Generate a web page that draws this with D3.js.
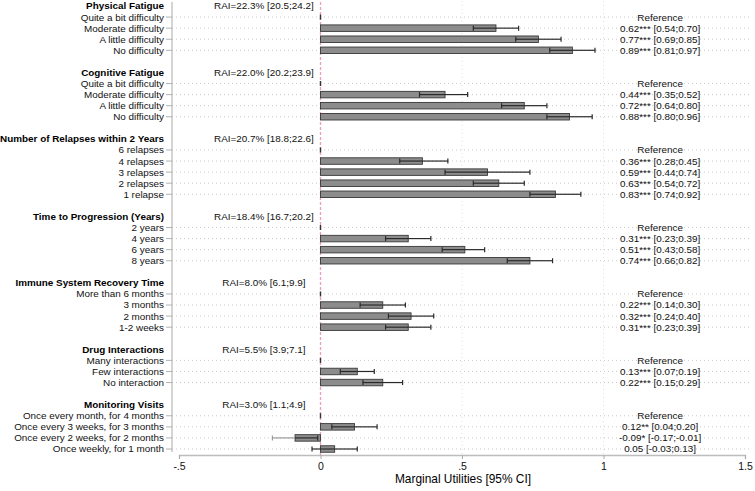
<!DOCTYPE html>
<html><head><meta charset="utf-8">
<script src="https://cdn.jsdelivr.net/npm/d3@7"></script>
<style>
body{margin:0;background:#fff;}
svg{display:block;font-family:"Liberation Sans",Arial,sans-serif;}
</style></head>
<body><svg id="c" width="755" height="491"></svg>
<script>
const groups = ["Physical Fatigue","Cognitive Fatigue","Number of Relapses within 2 Years","Time to Progression (Years)","Immune System Recovery Time","Drug Interactions","Monitoring Visits"];
const rai = ["RAI=22.3% [20.5;24.2]","RAI=22.0% [20.2;23.9]","RAI=20.7% [18.8;22.6]","RAI=18.4% [16.7;20.2]","RAI=8.0% [6.1;9.9]","RAI=5.5% [3.9;7.1]","RAI=3.0% [1.1;4.9]"];
const levels = [
  ["Quite a bit difficulty","Moderate difficulty","A little difficulty","No difficulty"],
  ["Quite a bit difficulty","Moderate difficulty","A little difficulty","No difficulty"],
  ["6 relapses","4 relapses","3 relapses","2 relapses","1 relapse"],
  ["2 years","4 years","6 years","8 years"],
  ["More than 6 months","3 months","2 months","1-2 weeks"],
  ["Many interactions","Few interactions","No interaction"],
  ["Once every month, for 4 months","Once every 3 weeks, for 3 months","Once every 2 weeks, for 2 months","Once weekly, for 1 month"]
];
// null = reference level
const values = [
  [null,0.62,0.77,0.89],
  [null,0.44,0.72,0.88],
  [null,0.36,0.59,0.63,0.83],
  [null,0.31,0.51,0.74],
  [null,0.22,0.32,0.31],
  [null,0.13,0.22],
  [null,0.12,-0.09,0.05]
];
const lower = [
  [null,0.54,0.69,0.81],
  [null,0.35,0.64,0.80],
  [null,0.28,0.44,0.54,0.74],
  [null,0.23,0.43,0.66],
  [null,0.14,0.24,0.23],
  [null,0.07,0.15],
  [null,0.04,-0.17,-0.03]
];
const upper = [
  [null,0.70,0.85,0.97],
  [null,0.52,0.80,0.96],
  [null,0.45,0.74,0.72,0.92],
  [null,0.39,0.58,0.82],
  [null,0.30,0.40,0.39],
  [null,0.19,0.29],
  [null,0.20,-0.01,0.13]
];
const stars = [
  ["","***","***","***"],
  ["","***","***","***"],
  ["","***","***","***","***"],
  ["","***","***","***"],
  ["","***","***","***"],
  ["","***","***"],
  ["","**","*",""]
];
const xTicks = [-0.5,0,0.5,1,1.5];
const xTickLabels = ["-.5","0",".5","1","1.5"];
const xTitle = "Marginal Utilities [95% CI]";

// build rows
const rows = [];
groups.forEach((g,gi)=>{
  rows.push({type:"header",label:g,rai:rai[gi]});
  levels[gi].forEach((l,li)=>{
    rows.push({type:"level",label:l,v:values[gi][li],lo:lower[gi][li],hi:upper[gi][li],st:stars[gi][li]});
  });
  if(gi<groups.length-1) rows.push({type:"blank"});
});

const svg = d3.select("#c");
const x = d3.scaleLinear().domain([-0.5,1.5]).range([179,745]);
const y = d3.scalePoint().domain(d3.range(rows.length)).range([6,449]);
const axisX = 172, fs = 9.9;

// horizontal dotted gridlines
rows.forEach((r,i)=>{
  if(r.type!=="level") return;
  svg.append("line").attr("x1",axisX).attr("x2",752).attr("y1",y(i)).attr("y2",y(i))
    .attr("stroke","#c4c4c4").attr("stroke-width",0.9).attr("stroke-dasharray","1,3");
});
// vertical gridlines at interior ticks
[0.5,1].forEach(t=>{
  svg.append("line").attr("x1",x(t)).attr("x2",x(t)).attr("y1",1).attr("y2",455)
    .attr("stroke","#dcdcdc").attr("stroke-width",0.9).attr("stroke-dasharray","1,3");
});
// zero line pink dashed
svg.append("line").attr("x1",x(0)).attr("x2",x(0)).attr("y1",2).attr("y2",455)
  .attr("stroke","#ea9cc2").attr("stroke-width",1.3).attr("stroke-dasharray","3,2");

// y axis line
svg.append("line").attr("x1",axisX).attr("x2",axisX).attr("y1",2).attr("y2",452)
  .attr("stroke","#bdbdbd").attr("stroke-width",1.3);

// labels and ticks
rows.forEach((r,i)=>{
  if(r.type==="header"){
    svg.append("text").attr("x",164).attr("y",y(i)).attr("dy","0.35em").attr("text-anchor","end")
      .attr("font-size",fs).attr("font-weight","bold").attr("fill","#000").text(r.label);
    svg.append("text").attr("x",x(-0.2)).attr("y",y(i)).attr("dy","0.35em").attr("text-anchor","middle")
      .attr("font-size",fs).attr("fill","#111").text(r.rai);
  } else if(r.type==="level"){
    svg.append("text").attr("x",164).attr("y",y(i)).attr("dy","0.35em").attr("text-anchor","end")
      .attr("font-size",fs).attr("fill","#111").text(r.label);
    svg.append("line").attr("x1",166).attr("x2",axisX).attr("y1",y(i)).attr("y2",y(i))
      .attr("stroke","#aaa").attr("stroke-width",0.9);
    const lab = r.v===null ? "Reference" :
      `${r.v.toFixed(2)}${r.st} [${r.lo.toFixed(2)};${r.hi.toFixed(2)}]`;
    svg.append("text").attr("x",x(1.2)).attr("y",y(i)).attr("dy","0.35em").attr("text-anchor","middle")
      .attr("font-size",fs).attr("fill","#111").text(lab);
  }
});

// bars and CIs
const bh = 6.5, cap = 5;
rows.forEach((r,i)=>{
  if(r.type!=="level") return;
  const cy = y(i);
  if(r.v===null){
    svg.append("line").attr("x1",x(0)).attr("x2",x(0)).attr("y1",cy-2.5).attr("y2",cy+2.5)
      .attr("stroke","#333").attr("stroke-width",1.4);
    return;
  }
  const x0 = Math.min(x(0),x(r.v)), w = Math.abs(x(r.v)-x(0));
  svg.append("rect").attr("x",x0).attr("y",cy-bh/2).attr("width",w).attr("height",bh)
    .attr("fill","#8c8c8c").attr("stroke","#383838").attr("stroke-width",0.9);
  const inside = r.v>=0 ? [r.lo, r.v] : [r.v, r.hi];
  const outside = r.v>=0 ? [r.v, r.hi] : [r.lo, r.v];
  const outCol = r.v>=0 ? "#2a2a2a" : "#9a9a9a";
  svg.append("line").attr("x1",x(inside[0])).attr("x2",x(inside[1])).attr("y1",cy).attr("y2",cy)
    .attr("stroke","#2a2a2a").attr("stroke-width",1.2);
  svg.append("line").attr("x1",x(outside[0])).attr("x2",x(outside[1])).attr("y1",cy).attr("y2",cy)
    .attr("stroke",outCol).attr("stroke-width",1.2);
  [[r.lo, r.v>=0?"#2a2a2a":outCol],[r.hi,"#2a2a2a"]].forEach(([c,col])=>{
    svg.append("line").attr("x1",x(c)).attr("x2",x(c)).attr("y1",cy-cap/2).attr("y2",cy+cap/2)
      .attr("stroke",col).attr("stroke-width",1.2);
  });
});

// x axis
const xa = svg.append("g").attr("transform","translate(0,455)")
  .call(d3.axisBottom(x).tickValues(xTicks).tickSize(4).tickPadding(4).tickFormat((d,i)=>xTickLabels[i]));
xa.select(".domain").attr("stroke","#bdbdbd").attr("stroke-width",1.3);
xa.selectAll(".tick line").attr("stroke","#aaa");
xa.selectAll(".tick text").attr("font-size",10.5).attr("fill","#111").attr("font-family","Liberation Sans, Arial, sans-serif");

svg.append("text").attr("x",463).attr("y",483).attr("text-anchor","middle")
  .attr("font-size",11.9).attr("fill","#000").text(xTitle);
</script></body></html>
